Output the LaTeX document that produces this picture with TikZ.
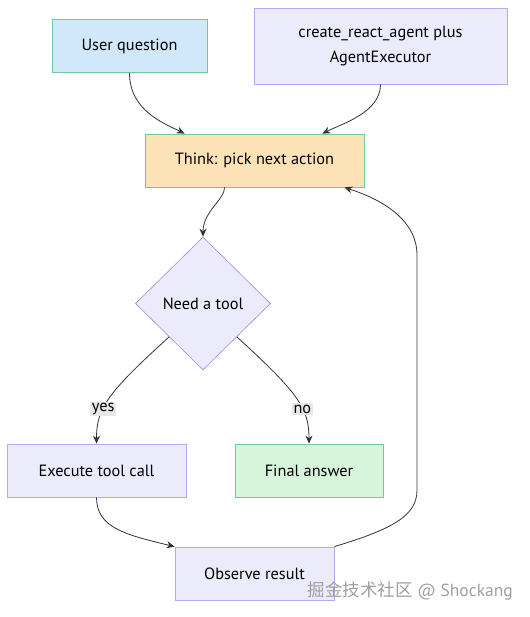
\documentclass[tikz,border=0pt]{standalone}
\usepackage{fontspec}
\setmainfont{PT Sans}
\newfontfamily\cjkfont{Noto Sans CJK SC}
\usetikzlibrary{shapes.geometric,arrows.meta,calc}
\definecolor{lblue}{HTML}{D1E8FB}
\definecolor{lpurple}{HTML}{ECEBFC}
\definecolor{lorange}{HTML}{FDE2B8}
\definecolor{lgreen}{HTML}{D6F5DA}
\definecolor{bgreen}{HTML}{6CCB98}
\definecolor{bpurple}{HTML}{BCA6F0}
\definecolor{linec}{HTML}{333333}
\definecolor{lblbg}{HTML}{E8E8E8}
\tikzset{
  box/.style={draw, line width=0.8pt, minimum height=53pt, inner sep=0pt, font=\fontsize{16.3}{19}\selectfont, text=black},
  conn/.style={draw=linec, line width=0.8pt, -{Stealth[length=8pt,width=7pt]}},
  elabel/.style={fill=lblbg, inner sep=1.5pt, font=\fontsize{16.3}{19}\selectfont}
}
\begin{document}
\begin{tikzpicture}[x=1pt,y=-1pt]
\useasboundingbox (0,0) rectangle (529,617);
\node[box, fill=lblue, draw=bgreen, minimum width=155pt] (uq) at (129.5,46) {User question};
\node[box, fill=lpurple, draw=bpurple, minimum width=253pt, minimum height=76pt, align=center] (cr) at (380.5,46) {create\_react\_agent plus\\[5.5pt]AgentExecutor};
\node[box, fill=lorange, draw=bgreen, minimum width=219pt] (think) at (254.5,160.5) {Think: pick next action};
\node[diamond, draw=bpurple!80!violet, fill=lpurple, line width=0.6pt, minimum width=135pt, minimum height=133pt, inner sep=0pt, font=\fontsize{16.3}{19}\selectfont] (dec) at (203,303.5) {Need a tool};
\node[box, fill=lpurple, draw=bpurple, minimum width=179pt] (exec) at (96.5,470.5) {Execute tool call};
\node[box, fill=lgreen, draw=bgreen, minimum width=148pt] (fin) at (309,470.5) {Final answer};
\node[box, fill=lpurple, draw=bpurple, minimum width=159pt] (obs) at (254.5,573.5) {Observe result};

\draw[conn] (uq.south) .. controls ($(uq.south)+(0,38)$) and ($(think.north west)+(20,-10)$) .. ($(think.north west)+(40,0)$);
\draw[conn] (cr.south) .. controls ($(cr.south)+(0,28)$) and ($(think.north east)+(-22,-10)$) .. ($(think.north east)+(-42,0)$);
\draw[conn] ($(think.south west)+(80,0)$) .. controls ($(think.south west)+(80,12)$) and ($(dec.north)+(0,-25)$) .. (dec.north);
\draw[conn] ($(dec.west)!0.5!(dec.south)$) .. controls ($(exec.north)+(10,-50)$) and ($(exec.north)+(0,-35)$) .. (exec.north)
  node[elabel, pos=0.62] {yes};
\draw[conn] ($(dec.east)!0.5!(dec.south)$) .. controls ($(fin.north)+(-10,-50)$) and ($(fin.north)+(0,-35)$) .. (fin.north)
  node[elabel, pos=0.62] {no};
\draw[conn] (exec.south) .. controls ($(exec.south)+(0,30)$) and ($(obs.north west)+(-50,-12)$) .. (obs.north west);
\coordinate (lb) at (417,490);
\coordinate (lt) at (417,255);
\draw[conn] (obs.north east) .. controls ($(obs.north east)+(60,-18)$) and ($(lb)+(0,25)$) .. (lb) -- (lt) .. controls ($(lt)+(0,-45)$) and ($(think.south east)+(-5,5)$) .. ($(think.south east)+(-20,0)$);

\node[anchor=east, text=gray!75, inner sep=0pt, font=\fontsize{17.5}{20}\selectfont] (wm) at (513,591) {{\cjkfont 掘金技术社区} @ Shockang};
\end{tikzpicture}
\end{document}
